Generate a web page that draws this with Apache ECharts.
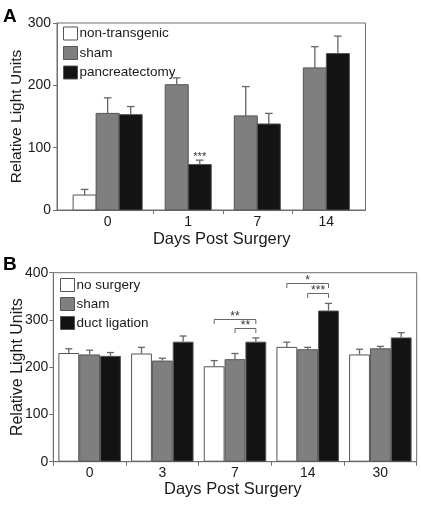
<!DOCTYPE html>
<html><head><meta charset="utf-8">
<script src="https://cdn.jsdelivr.net/npm/echarts@6/dist/echarts.min.js"></script>
<style>html,body{margin:0;padding:0;background:#fff}#c{width:421px;height:510px}</style>
</head><body><div id="c"></div>
<script>
// ---------- Panel A data ----------
const daysA = ['0', '1', '7', '14'];
const seriesNamesA = ['non-transgenic', 'sham', 'pancreatectomy'];
const nonTransgenicA = [24, null, null, null];
const nonTransgenicErrA = [9, null, null, null];
const shamA = [155, 201, 151, 228];
const shamErrA = [25, 11, 47, 34];
const pancreatectomyA = [153, 73, 138, 251];
const pancreatectomyErrA = [13, 7, 17, 28];
const yTicksA = [0, 100, 200, 300];
const sigA = [{ day: '1', series: 'pancreatectomy', label: '***' }];

// ---------- Panel B data ----------
const daysB = ['0', '3', '7', '14', '30'];
const seriesNamesB = ['no surgery', 'sham', 'duct ligation'];
const noSurgeryB = [230, 229, 202, 243, 227];
const noSurgeryErrB = [9, 13, 12, 10, 11];
const shamB = [227, 214, 217, 238, 240];
const shamErrB = [9, 5, 12, 4, 4];
const ductLigationB = [224, 254, 254, 320, 263];
const ductLigationErrB = [7, 12, 8, 15, 10];
const yTicksB = [0, 100, 200, 300, 400];
const bracketsB = [
  { day: '7', from: 'no surgery', to: 'duct ligation', level: 303, label: '**' },
  { day: '7', from: 'sham', to: 'duct ligation', level: 284, label: '**' },
  { day: '14', from: 'no surgery', to: 'duct ligation', level: 378, label: '*' },
  { day: '14', from: 'sham', to: 'duct ligation', level: 358, label: '***' }
];

// ---------- styles ----------
const FONT = 'Liberation Sans, Arial, Helvetica, sans-serif';
const fills = ['#ffffff', '#7f7f7f', '#131313'];
const BORDER = '#555555';
const AXIS = '#707070';
const ERR = '#666666';
const TXT = '#1a1a1a';

// ---------- Panel A layout (bars placed in slots, only present bars take room) ----------
const valsA = [nonTransgenicA, shamA, pancreatectomyA];
const errsA = [nonTransgenicErrA, shamErrA, pancreatectomyErrA];
const barDataA = [[], [], []];
const errDataA = [];
const centersA = [];
const sepA = [];
const sigDataA = [];
let slot = 0;
daysA.forEach((d, g) => {
  const present = [0, 1, 2].filter(s => valsA[s][g] != null);
  present.forEach((s, k) => {
    const x = slot + k + 0.5;
    barDataA[s].push([x, valsA[s][g]]);
    errDataA.push([x, valsA[s][g], errsA[s][g]]);
    sigA.forEach(sg => {
      if (sg.day === d && sg.series === seriesNamesA[s]) sigDataA.push([x, valsA[s][g] + errsA[s][g], sg.label]);
    });
  });
  centersA.push(slot + present.length / 2);
  if (g < daysA.length - 1) sepA.push(slot + present.length + 0.5);
  slot += present.length + 1;
});
const xMaxA = slot - 1 + 0.7;
const xMinA = -0.7;

function rectItem(color) {
  return function (params, api) {
    const x = api.value(0), v = api.value(1);
    const p0 = api.coord([x - 0.5, v]);
    const p1 = api.coord([x + 0.5, 0]);
    return {
      type: 'rect',
      shape: { x: p0[0], y: p0[1], width: p1[0] - p0[0], height: p1[1] - p0[1] },
      style: { fill: color, stroke: BORDER, lineWidth: 1 }
    };
  };
}
function errShape(cx, topPx, errPx, cap) {
  return {
    type: 'group',
    children: [
      { type: 'line', shape: { x1: cx, y1: topPx, x2: cx, y2: errPx }, style: { stroke: ERR, lineWidth: 1.3 } },
      { type: 'line', shape: { x1: cx - cap, y1: errPx, x2: cx + cap, y2: errPx }, style: { stroke: ERR, lineWidth: 1.3 } }
    ]
  };
}

// ---------- Panel B helpers ----------
const valsB = [noSurgeryB, shamB, ductLigationB];
const errsB = [noSurgeryErrB, shamErrB, ductLigationErrB];
const errDataB = [];
valsB.forEach((arr, s) => arr.forEach((v, g) => errDataB.push([g, v, errsB[s][g], s])));
const bracketData = bracketsB.map(b => [daysB.indexOf(b.day), b.level, seriesNamesB.indexOf(b.from), seriesNamesB.indexOf(b.to), b.label]);
const CAT_GAP = 0.14;
function barOffsetB(api, s) {
  const band = api.size([1, 0])[0];
  const w = band * (1 - CAT_GAP) / 3;
  return (s - 1) * w;
}

const option = {
  animation: false,
  textStyle: { fontFamily: FONT },
  grid: [
    { left: 57, top: 23, width: 308.5, height: 187, show: true, borderColor: AXIS, borderWidth: 1, backgroundColor: 'transparent', containLabel: false, outerBoundsMode: 'none' },
    { left: 53.3, top: 272.7, width: 363.4, height: 189, show: true, borderColor: AXIS, borderWidth: 1, backgroundColor: 'transparent', containLabel: false, outerBoundsMode: 'none' }
  ],
  legend: [
    {
      orient: 'vertical', left: 63, top: 26.5, itemWidth: 14, itemHeight: 13, itemGap: 5.5, padding: 0,
      icon: 'rect', selectedMode: false,
      textStyle: { fontSize: 13.5, color: TXT, fontFamily: FONT, padding: [0, 0, 0, -3] },
      data: seriesNamesA.map((n, i) => ({ name: n, itemStyle: { color: fills[i], borderColor: BORDER, borderWidth: 1 } }))
    },
    {
      orient: 'vertical', left: 60, top: 278, itemWidth: 14, itemHeight: 13, itemGap: 5, padding: 0,
      icon: 'rect', selectedMode: false,
      textStyle: { fontSize: 13.5, color: TXT, fontFamily: FONT, padding: [0, 0, 0, -3] },
      data: seriesNamesB.map((n, i) => ({ name: n, itemStyle: { color: fills[i], borderColor: BORDER, borderWidth: 1 } }))
    }
  ],
  xAxis: [
    {
      gridIndex: 0, type: 'value', min: xMinA, max: xMaxA,
      axisLine: { show: true, onZero: false, lineStyle: { color: AXIS } },
      axisTick: { show: true, length: 4, customValues: sepA, lineStyle: { color: AXIS } },
      axisLabel: {
        show: true, customValues: centersA, fontSize: 14, color: TXT, margin: 5, fontFamily: FONT,
        formatter: v => {
          let best = 0;
          centersA.forEach((c, i) => { if (Math.abs(c - v) < Math.abs(centersA[best] - v)) best = i; });
          return daysA[best];
        }
      },
      splitLine: { show: false }
    },
    {
      gridIndex: 1, type: 'category', data: daysB, boundaryGap: true,
      axisLine: { show: true, onZero: false, lineStyle: { color: AXIS } },
      axisTick: { show: true, length: 4, alignWithLabel: false, lineStyle: { color: AXIS } },
      axisLabel: { fontSize: 14, color: TXT, margin: 4, fontFamily: FONT },
      splitLine: { show: false }
    }
  ],
  yAxis: [
    {
      gridIndex: 0, type: 'value', min: yTicksA[0], max: yTicksA[yTicksA.length - 1], interval: 100,
      axisLine: { show: true, onZero: false, lineStyle: { color: AXIS } },
      axisTick: { show: true, length: 4, lineStyle: { color: AXIS } },
      axisLabel: { fontSize: 14, color: TXT, margin: 6, fontFamily: FONT },
      splitLine: { show: false },
      name: 'Relative Light Units', nameLocation: 'middle', nameGap: 32, nameMoveOverlap: false,
      nameTextStyle: { fontSize: 15.5, color: TXT, fontFamily: FONT }
    },
    {
      gridIndex: 1, type: 'value', min: yTicksB[0], max: yTicksB[yTicksB.length - 1], interval: 100,
      axisLine: { show: true, onZero: false, lineStyle: { color: AXIS } },
      axisTick: { show: true, length: 4, lineStyle: { color: AXIS } },
      axisLabel: { fontSize: 14, color: TXT, margin: 5, fontFamily: FONT },
      splitLine: { show: false },
      name: 'Relative Light Units', nameLocation: 'middle', nameGap: 28, nameMoveOverlap: false,
      nameTextStyle: { fontSize: 16, color: TXT, fontFamily: FONT }
    }
  ],
  graphic: [
    { type: 'text', left: 3, top: 7, style: { text: 'A', font: 'bold 19px ' + FONT, fill: '#000' } },
    { type: 'text', left: 3, top: 255, style: { text: 'B', font: 'bold 19px ' + FONT, fill: '#000' } },
    { type: 'text', x: 221.7, y: 239, style: { text: 'Days Post Surgery', font: '16.5px ' + FONT, fill: TXT, align: 'center', verticalAlign: 'middle' } },
    { type: 'text', x: 232.8, y: 489, style: { text: 'Days Post Surgery', font: '16.5px ' + FONT, fill: TXT, align: 'center', verticalAlign: 'middle' } }
  ],
  series: [
    // Panel A bars
    ...seriesNamesA.map((n, i) => ({
      name: n, type: 'custom', xAxisIndex: 0, yAxisIndex: 0, z: 2,
      itemStyle: { color: fills[i], borderColor: BORDER, borderWidth: 1 },
      renderItem: rectItem(fills[i]), data: barDataA[i]
    })),
    {
      name: 'errA', type: 'custom', xAxisIndex: 0, yAxisIndex: 0, z: 3,
      renderItem: (params, api) => {
        const x = api.value(0), v = api.value(1), e = api.value(2);
        const top = api.coord([x, v]);
        const et = api.coord([x, v + e]);
        return errShape(top[0], top[1], et[1], 3.8);
      },
      data: errDataA
    },
    {
      name: 'sigA', type: 'custom', xAxisIndex: 0, yAxisIndex: 0, z: 4,
      renderItem: (params, api) => {
        const p = api.coord([api.value(0), api.value(1)]);
        return { type: 'text', style: { text: sigDataA[params.dataIndex][2], x: p[0], y: p[1] - 3, align: 'center', verticalAlign: 'middle', font: '11px ' + FONT, fill: '#333' } };
      },
      data: sigDataA.map(d => [d[0], d[1]])
    },
    // Panel B bars
    ...seriesNamesB.map((n, i) => ({
      name: n, type: 'bar', xAxisIndex: 1, yAxisIndex: 1, z: 2,
      barGap: '0%', barCategoryGap: (CAT_GAP * 100) + '%',
      itemStyle: { color: fills[i], borderColor: BORDER, borderWidth: 1 },
      data: valsB[i]
    })),
    {
      name: 'errB', type: 'custom', xAxisIndex: 1, yAxisIndex: 1, z: 3,
      renderItem: (params, api) => {
        const g = api.value(0), v = api.value(1), e = api.value(2), s = api.value(3);
        const top = api.coord([g, v]);
        const et = api.coord([g, v + e]);
        const cx = top[0] + barOffsetB(api, s);
        return errShape(cx, top[1], et[1], 3.5);
      },
      data: errDataB
    },
    {
      name: 'bracketsB', type: 'custom', xAxisIndex: 1, yAxisIndex: 1, z: 4,
      renderItem: (params, api) => {
        const g = api.value(0), lvl = api.value(1), a = api.value(2), b = api.value(3);
        const c = api.coord([g, lvl]);
        const xa = c[0] + barOffsetB(api, a);
        const xb = c[0] + barOffsetB(api, b);
        const y = Math.round(c[1]) + 0.5;
        return {
          type: 'group',
          children: [
            { type: 'polyline', shape: { points: [[xa, y + 4.5], [xa, y], [xb, y], [xb, y + 4.5]] }, style: { stroke: ERR, lineWidth: 1, fill: null } },
            { type: 'text', style: { text: bracketData[params.dataIndex][4], x: (xa + xb) / 2, y: y - 2.5, align: 'center', verticalAlign: 'middle', font: '12px ' + FONT, fill: '#333' } }
          ]
        };
      },
      data: bracketData.map(d => [d[0], d[1], d[2], d[3]])
    }
  ]
};

const chart = echarts.init(document.getElementById('c'), null, { renderer: 'canvas' });
chart.setOption(option);
</script>
</body></html>
